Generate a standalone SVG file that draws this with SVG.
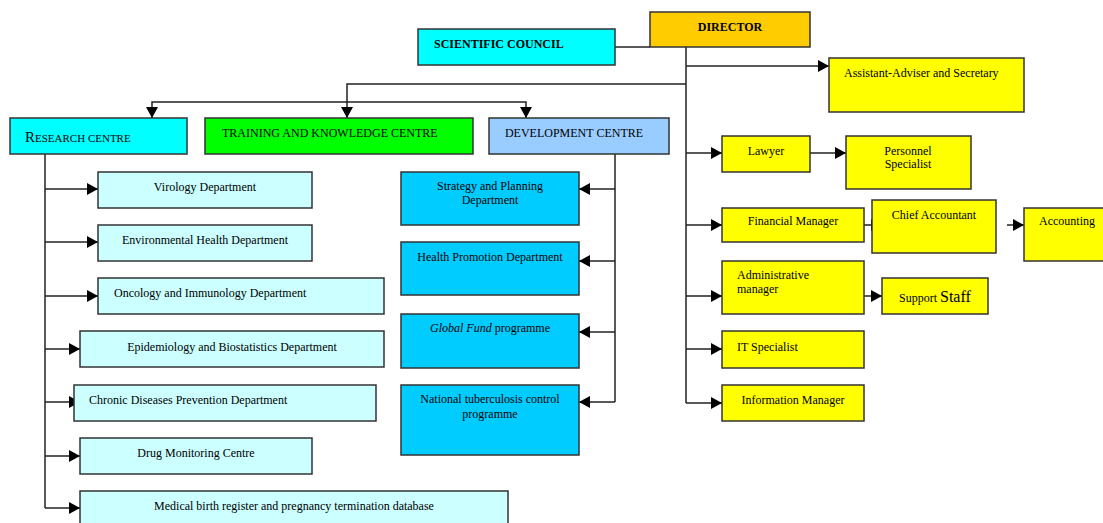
<svg xmlns="http://www.w3.org/2000/svg" width="1103" height="523" viewBox="0 0 1103 523">
<defs>
<marker id="ah" markerUnits="userSpaceOnUse" markerWidth="12" markerHeight="12" refX="11" refY="6" orient="auto">
<path d="M0,0 L11,6 L0,12 z" fill="#000"/>
</marker>
<style>
.b{stroke:#333;stroke-width:1.5}
.dir{fill:#FFCC00}.sc{fill:#00FFFF}.tr{fill:#00FF00}.dv{fill:#99CCFF}
.lc{fill:#CCFFFF}.mc{fill:#00CCFF}.ye{fill:#FFFF00}
text{font-family:"Liberation Serif","Times New Roman",serif;font-size:12px;fill:#000}
.c{text-anchor:middle}
.bd{font-weight:bold}
.ln{fill:none;stroke:#222;stroke-width:1.5}
.ar{fill:none;stroke:#222;stroke-width:1.5;marker-end:url(#ah)}
</style>
</defs>
<rect width="1103" height="523" fill="#fff"/>
<g id="connectors">
<path class="ln" d="M615,47 H650"/>
<path class="ln" d="M686,47 V403"/>
<path class="ar" d="M686,66 H829"/>
<path class="ar" d="M686,84 H347 V118"/>
<path class="ar" d="M347,102 H152 V118"/>
<path class="ar" d="M347,102 H526 V118"/>
<path class="ln" d="M45,154 V508"/>
<path class="ar" d="M45,189 H98"/>
<path class="ar" d="M45,242 H98"/>
<path class="ar" d="M45,296 H98"/>
<path class="ar" d="M45,349 H80"/>
<path class="ar" d="M45,402 H80"/>
<path class="ar" d="M45,456 H80"/>
<path class="ar" d="M45,508 H80"/>
<path class="ln" d="M615,154 V402"/>
<path class="ar" d="M615,189 H579"/>
<path class="ar" d="M615,261 H579"/>
<path class="ar" d="M615,332 H579"/>
<path class="ar" d="M615,402 H579"/>
<path class="ar" d="M686,153 H722"/>
<path class="ar" d="M810,153 H846"/>
<path class="ar" d="M686,225 H722"/>
<path class="ar" d="M864,225 H882"/>
<path class="ar" d="M1007,225 H1024"/>
<path class="ar" d="M686,296 H722"/>
<path class="ar" d="M864,296 H882"/>
<path class="ar" d="M686,349 H722"/>
<path class="ar" d="M686,403 H722"/>
</g>
<g id="director"><rect class="b dir" x="650" y="12" width="160" height="35"/><text class="c bd" x="730" y="31">DIRECTOR</text></g>
<g id="scientific-council"><rect class="b sc" x="418" y="29" width="197" height="36"/><text class="bd" x="434" y="48">SCIENTIFIC COUNCIL</text></g>
<g id="research-centre"><rect class="b sc" x="10" y="118" width="177" height="36"/><text x="25" y="142"><tspan font-size="15">R</tspan><tspan font-size="11">ESEARCH CENTRE</tspan></text></g>
<g id="training-centre"><rect class="b tr" x="205" y="118" width="268" height="36"/><text x="222" y="137">TRAINING AND KNOWLEDGE CENTRE</text></g>
<g id="development-centre"><rect class="b dv" x="489" y="118" width="180" height="36"/><text class="c" x="574" y="137">DEVELOPMENT CENTRE</text></g>
<g id="virology"><rect class="b lc" x="98" y="172" width="214" height="36"/><text class="c" x="205" y="191">Virology Department</text></g>
<g id="environmental"><rect class="b lc" x="98" y="225" width="214" height="36"/><text class="c" x="205" y="244">Environmental Health Department</text></g>
<g id="oncology"><rect class="b lc" x="98" y="278" width="286" height="36"/><text x="114" y="297">Oncology and Immunology Department</text></g>
<g id="epidemiology"><rect class="b lc" x="80" y="331" width="304" height="36"/><text class="c" x="232" y="351">Epidemiology and Biostatistics Department</text></g>
<g id="chronic"><rect class="b lc" x="74" y="385" width="302" height="36"/><text x="89" y="404">Chronic Diseases Prevention Department</text></g>
<g id="drug"><rect class="b lc" x="80" y="438" width="232" height="36"/><text class="c" x="196" y="457">Drug Monitoring Centre</text></g>
<g id="medical-birth"><rect class="b lc" x="80" y="491" width="428" height="40"/><text class="c" x="294" y="510">Medical birth register and pregnancy termination database</text></g>
<g id="strategy"><rect class="b mc" x="401" y="172" width="178" height="53"/><text class="c" x="490" y="190">Strategy and Planning</text><text class="c" x="490" y="204">Department</text></g>
<g id="health-promotion"><rect class="b mc" x="401" y="242" width="178" height="53"/><text class="c" x="490" y="261">Health Promotion Department</text></g>
<g id="global-fund"><rect class="b mc" x="401" y="314" width="178" height="54"/><text class="c" x="490" y="332"><tspan font-style="italic">Global Fund</tspan> programme</text></g>
<g id="tb"><rect class="b mc" x="401" y="385" width="178" height="70"/><text class="c" x="490" y="403">National tuberculosis control</text><text class="c" x="490" y="418">programme</text></g>
<g id="assistant"><rect class="b ye" x="829" y="58" width="195" height="54"/><text x="844" y="77">Assistant-Adviser and Secretary</text></g>
<g id="lawyer"><rect class="b ye" x="722" y="136" width="88" height="36"/><text class="c" x="766" y="155">Lawyer</text></g>
<g id="personnel"><rect class="b ye" x="846" y="136" width="125" height="53"/><text class="c" x="908" y="155">Personnel</text><text class="c" x="908" y="168">Specialist</text></g>
<g id="financial"><rect class="b ye" x="722" y="208" width="142" height="34"/><text class="c" x="793" y="225">Financial Manager</text></g>
<g id="chief-accountant"><rect class="b ye" x="872" y="200" width="124" height="53"/><text class="c" x="934" y="219">Chief Accountant</text></g>
<g id="accounting"><rect class="b ye" x="1024" y="208" width="90" height="53"/><text x="1039" y="225">Accounting</text></g>
<g id="admin"><rect class="b ye" x="722" y="261" width="142" height="53"/><text x="737" y="279">Administrative</text><text x="737" y="293">manager</text></g>
<g id="support"><rect class="b ye" x="882" y="278" width="106" height="36"/><text x="899" y="302">Support <tspan font-size="16">Staff</tspan></text></g>
<g id="it"><rect class="b ye" x="722" y="331" width="142" height="37"/><text x="737" y="351">IT Specialist</text></g>
<g id="information"><rect class="b ye" x="722" y="385" width="142" height="36"/><text class="c" x="793" y="404">Information Manager</text></g>
</svg>
